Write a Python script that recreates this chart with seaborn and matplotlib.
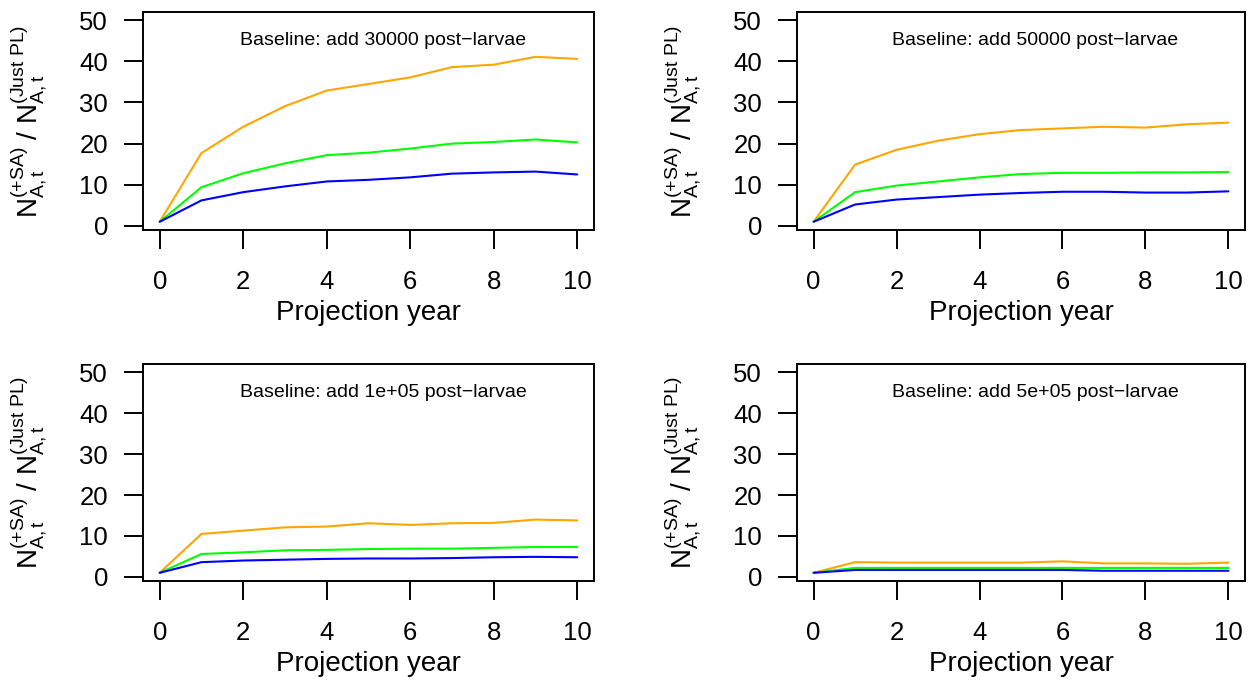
import numpy as np
import pandas as pd
import matplotlib
matplotlib.use("Agg")
import matplotlib.pyplot as plt
import seaborn as sns

years = np.arange(0, 11)
panel_titles = [
    "Baseline: add 30000 post\u2212larvae",
    "Baseline: add 50000 post\u2212larvae",
    "Baseline: add 1e+05 post\u2212larvae",
    "Baseline: add 5e+05 post\u2212larvae",
]
series_names = ["orange", "green", "blue"]
series_colors = {"orange": "#FFA500", "green": "#00FF00", "blue": "#0000FF"}

# ratio values per panel
p1_orange = [1, 17.7, 24.1, 29.1, 32.9, 34.5, 36.1, 38.6, 39.2, 41.1, 40.6]
p1_green = [1, 9.4, 12.8, 15.2, 17.2, 17.8, 18.8, 20.0, 20.4, 21.0, 20.3]
p1_blue = [1, 6.2, 8.2, 9.6, 10.8, 11.2, 11.8, 12.7, 13.0, 13.2, 12.5]

p2_orange = [1, 14.9, 18.5, 20.7, 22.3, 23.3, 23.7, 24.1, 23.9, 24.7, 25.1]
p2_green = [1, 8.2, 9.8, 10.8, 11.8, 12.6, 12.9, 12.9, 13.0, 13.0, 13.1]
p2_blue = [1, 5.2, 6.4, 7.0, 7.6, 8.0, 8.3, 8.3, 8.1, 8.1, 8.4]

p3_orange = [1, 10.5, 11.3, 12.1, 12.3, 13.1, 12.7, 13.1, 13.2, 14.0, 13.8]
p3_green = [1, 5.6, 6.0, 6.5, 6.6, 6.8, 6.9, 6.9, 7.1, 7.3, 7.3]
p3_blue = [1, 3.6, 4.0, 4.2, 4.4, 4.5, 4.5, 4.6, 4.8, 4.9, 4.8]

p4_orange = [1, 3.6, 3.5, 3.5, 3.5, 3.5, 3.8, 3.3, 3.3, 3.2, 3.5]
p4_green = [1, 2.2, 2.2, 2.2, 2.2, 2.2, 2.2, 2.2, 2.2, 2.2, 2.2]
p4_blue = [1, 1.7, 1.7, 1.7, 1.7, 1.7, 1.7, 1.5, 1.5, 1.5, 1.5]

panels = [
    (p1_orange, p1_green, p1_blue),
    (p2_orange, p2_green, p2_blue),
    (p3_orange, p3_green, p3_blue),
    (p4_orange, p4_green, p4_blue),
]

sns.set_style("white")
plt.rcParams["font.family"] = ["Liberation Sans", "DejaVu Sans"]
plt.rcParams["mathtext.fontset"] = "custom"
plt.rcParams["mathtext.rm"] = "Liberation Sans"
plt.rcParams["mathtext.it"] = "Liberation Sans"
plt.rcParams["mathtext.default"] = "regular"
plt.rcParams["text.color"] = "black"
plt.rcParams["axes.labelcolor"] = "black"
plt.rcParams["xtick.color"] = "black"
plt.rcParams["ytick.color"] = "black"

fig = plt.figure(figsize=(12.52, 6.83), dpi=100)
W, H = 1252, 683
boxes = [(143, 12, 594, 230), (797, 12, 1245, 230),
         (143, 364, 594, 581), (797, 364, 1245, 581)]

ylab = r"$N_{A,t}^{(+SA)}$ / $N_{A,t}^{(Just\ PL)}$"

for i, (vals, box) in enumerate(zip(panels, boxes)):
    l, t, r, b = box
    ax = fig.add_axes([l / W, 1 - b / H, (r - l) / W, (b - t) / H])
    df = pd.DataFrame({
        "year": np.tile(years, 3),
        "ratio": np.concatenate(vals),
        "series": np.repeat(series_names, len(years)),
    })
    sns.lineplot(data=df, x="year", y="ratio", hue="series", palette=series_colors,
                 legend=False, linewidth=1.5, ax=ax)
    ax.set_xlim(-0.4, 10.4)
    ax.set_ylim(-1, 52)
    ax.set_xticks(range(0, 11, 2))
    ax.set_yticks(range(0, 51, 10))
    ax.tick_params(axis="both", direction="out", length=13.7, width=1.4, labelsize=18.5,
                   left=True, bottom=True)
    ax.tick_params(axis="x", pad=15)
    ax.tick_params(axis="y", pad=11.5)
    for s in ax.spines.values():
        s.set_linewidth(1.4)
        s.set_color("black")
    ax.set_xlabel("Projection year", fontsize=20)
    ax.set_ylabel(ylab, fontsize=20)
    ax.xaxis.set_label_coords(0.5, -70 / (b - t))
    ax.yaxis.set_label_coords(-93 / (r - l), 0.5)
    ax.text(5.35, 45, panel_titles[i], ha="center", va="center", fontsize=14)

fig.savefig("out.png", dpi=100)
